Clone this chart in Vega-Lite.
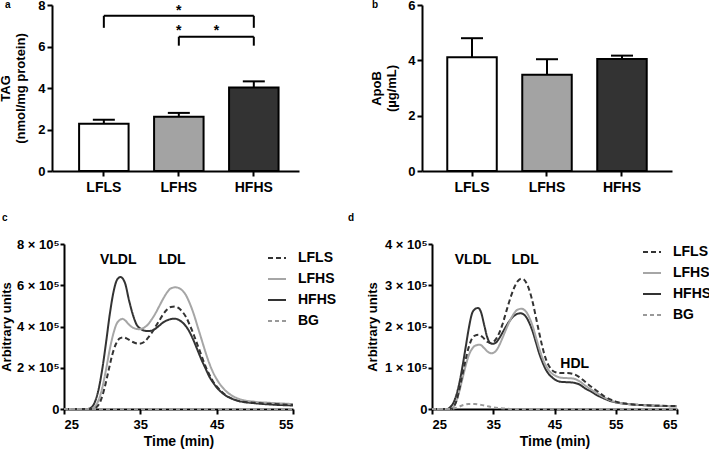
{
  "$schema": "https://vega.github.io/schema/vega-lite/v6.json",
  "autosize": {"type": "none"},
  "padding": {"left": 52, "top": 5, "right": 657, "bottom": 449},
  "config": {
    "font": "Liberation Sans",
    "view": {"stroke": null},
    "axis": {"domainColor": "#000", "domainWidth": 2, "tickColor": "#000", "tickWidth": 2, "tickSize": 5, "labelColor": "#000", "labelFontWeight": "bold", "labelFontSize": 13, "titleColor": "#000", "titleFontWeight": "bold", "titleFontSize": 13, "grid": false, "labelPadding": 2},
    "title": {"anchor": "start", "frame": "group", "fontSize": 10, "fontWeight": "bold", "baseline": "alphabetic", "color": "#000"},
    "legend": {"orient": "none", "title": null, "symbolType": "stroke", "symbolSize": 324, "symbolStrokeWidth": 2, "labelFontSize": 14, "labelFontWeight": "bold", "labelColor": "#000", "labelOffset": 11, "rowPadding": 4, "padding": 0}
  },
  "datasets": {
    "tag": [
      {"group": "LFLS", "mean": 2.28, "upper": 2.47},
      {"group": "LFHS", "mean": 2.62, "upper": 2.80},
      {"group": "HFHS", "mean": 4.02, "upper": 4.32}
    ],
    "apob": [
      {"group": "LFLS", "mean": 4.11, "upper": 4.80},
      {"group": "LFHS", "mean": 3.48, "upper": 4.04},
      {"group": "HFHS", "mean": 4.05, "upper": 4.17}
    ],
    "sig": [
      {"from": "LFLS", "to": "HFHS", "y": 7.48, "low": 6.9},
      {"from": "LFHS", "to": "HFHS", "y": 6.47, "low": 6.04}
    ],
    "stars": [
      {"group": "LFHS", "y": 7.52, "mark": "*"},
      {"group": "LFHS", "y": 6.55, "mark": "*"}
    ],
    "midstar": [
      {"group": "LFHS", "y": 6.55, "mark": "*"}
    ],
    "labels_c": [
      {"label": "VLDL", "time": 32.1, "signal": 722000},
      {"label": "LDL", "time": 39.15, "signal": 722000}
    ],
    "labels_d": [
      {"label": "VLDL", "time": 31.7, "signal": 361000},
      {"label": "LDL", "time": 40.2, "signal": 361000},
      {"label": "HDL", "time": 48.3, "signal": 109000}
    ],
    "fplc_c": [
      {"group": "HFHS", "time": 25, "signal": 0}, {"group": "HFHS", "time": 28, "signal": 0}, {"group": "HFHS", "time": 28.5, "signal": 5000}, {"group": "HFHS", "time": 29, "signal": 30000}, {"group": "HFHS", "time": 29.5, "signal": 90000}, {"group": "HFHS", "time": 30, "signal": 190000}, {"group": "HFHS", "time": 30.5, "signal": 320000}, {"group": "HFHS", "time": 31, "signal": 460000}, {"group": "HFHS", "time": 31.5, "signal": 570000}, {"group": "HFHS", "time": 32, "signal": 630000}, {"group": "HFHS", "time": 32.4, "signal": 640000}, {"group": "HFHS", "time": 33, "signal": 610000}, {"group": "HFHS", "time": 33.5, "signal": 530000}, {"group": "HFHS", "time": 34, "signal": 460000}, {"group": "HFHS", "time": 34.5, "signal": 410000}, {"group": "HFHS", "time": 35, "signal": 390000}, {"group": "HFHS", "time": 35.5, "signal": 380000}, {"group": "HFHS", "time": 36, "signal": 378000}, {"group": "HFHS", "time": 36.5, "signal": 380000}, {"group": "HFHS", "time": 37, "signal": 390000}, {"group": "HFHS", "time": 37.5, "signal": 405000}, {"group": "HFHS", "time": 38, "signal": 420000}, {"group": "HFHS", "time": 38.5, "signal": 430000}, {"group": "HFHS", "time": 39, "signal": 436000}, {"group": "HFHS", "time": 39.5, "signal": 438000}, {"group": "HFHS", "time": 40, "signal": 433000}, {"group": "HFHS", "time": 40.5, "signal": 420000}, {"group": "HFHS", "time": 41, "signal": 400000}, {"group": "HFHS", "time": 41.5, "signal": 370000}, {"group": "HFHS", "time": 42, "signal": 330000}, {"group": "HFHS", "time": 42.5, "signal": 285000}, {"group": "HFHS", "time": 43, "signal": 240000}, {"group": "HFHS", "time": 43.5, "signal": 200000}, {"group": "HFHS", "time": 44, "signal": 160000}, {"group": "HFHS", "time": 44.5, "signal": 130000}, {"group": "HFHS", "time": 45, "signal": 105000}, {"group": "HFHS", "time": 46, "signal": 70000}, {"group": "HFHS", "time": 47, "signal": 50000}, {"group": "HFHS", "time": 48, "signal": 38000}, {"group": "HFHS", "time": 50, "signal": 28000}, {"group": "HFHS", "time": 52, "signal": 22000}, {"group": "HFHS", "time": 55, "signal": 17000},
      {"group": "LFHS", "time": 25, "signal": 0}, {"group": "LFHS", "time": 28.5, "signal": 0}, {"group": "LFHS", "time": 29, "signal": 10000}, {"group": "LFHS", "time": 29.5, "signal": 40000}, {"group": "LFHS", "time": 30, "signal": 100000}, {"group": "LFHS", "time": 30.5, "signal": 190000}, {"group": "LFHS", "time": 31, "signal": 290000}, {"group": "LFHS", "time": 31.5, "signal": 370000}, {"group": "LFHS", "time": 32, "signal": 420000}, {"group": "LFHS", "time": 32.7, "signal": 437000}, {"group": "LFHS", "time": 33, "signal": 430000}, {"group": "LFHS", "time": 33.5, "signal": 410000}, {"group": "LFHS", "time": 34, "signal": 395000}, {"group": "LFHS", "time": 34.8, "signal": 387000}, {"group": "LFHS", "time": 35.5, "signal": 395000}, {"group": "LFHS", "time": 36, "signal": 410000}, {"group": "LFHS", "time": 36.5, "signal": 435000}, {"group": "LFHS", "time": 37, "signal": 465000}, {"group": "LFHS", "time": 37.5, "signal": 500000}, {"group": "LFHS", "time": 38, "signal": 535000}, {"group": "LFHS", "time": 38.5, "signal": 565000}, {"group": "LFHS", "time": 39, "signal": 585000}, {"group": "LFHS", "time": 39.6, "signal": 590000}, {"group": "LFHS", "time": 40, "signal": 587000}, {"group": "LFHS", "time": 40.5, "signal": 575000}, {"group": "LFHS", "time": 41, "signal": 550000}, {"group": "LFHS", "time": 41.5, "signal": 510000}, {"group": "LFHS", "time": 42, "signal": 460000}, {"group": "LFHS", "time": 42.5, "signal": 400000}, {"group": "LFHS", "time": 43, "signal": 340000}, {"group": "LFHS", "time": 43.5, "signal": 280000}, {"group": "LFHS", "time": 44, "signal": 225000}, {"group": "LFHS", "time": 44.5, "signal": 180000}, {"group": "LFHS", "time": 45, "signal": 145000}, {"group": "LFHS", "time": 46, "signal": 95000}, {"group": "LFHS", "time": 47, "signal": 65000}, {"group": "LFHS", "time": 48, "signal": 48000}, {"group": "LFHS", "time": 50, "signal": 35000}, {"group": "LFHS", "time": 52, "signal": 30000}, {"group": "LFHS", "time": 55, "signal": 24000},
      {"group": "LFLS", "time": 25, "signal": 0}, {"group": "LFLS", "time": 28.8, "signal": 0}, {"group": "LFLS", "time": 29.3, "signal": 10000}, {"group": "LFLS", "time": 29.8, "signal": 40000}, {"group": "LFLS", "time": 30.3, "signal": 100000}, {"group": "LFLS", "time": 30.8, "signal": 180000}, {"group": "LFLS", "time": 31.3, "signal": 260000}, {"group": "LFLS", "time": 31.8, "signal": 315000}, {"group": "LFLS", "time": 32.3, "signal": 342000}, {"group": "LFLS", "time": 32.8, "signal": 347000}, {"group": "LFLS", "time": 33.3, "signal": 340000}, {"group": "LFLS", "time": 34, "signal": 325000}, {"group": "LFLS", "time": 34.8, "signal": 316000}, {"group": "LFLS", "time": 35.5, "signal": 325000}, {"group": "LFLS", "time": 36, "signal": 345000}, {"group": "LFLS", "time": 36.5, "signal": 370000}, {"group": "LFLS", "time": 37, "signal": 400000}, {"group": "LFLS", "time": 37.5, "signal": 430000}, {"group": "LFLS", "time": 38, "signal": 460000}, {"group": "LFLS", "time": 38.5, "signal": 482000}, {"group": "LFLS", "time": 39, "signal": 495000}, {"group": "LFLS", "time": 39.5, "signal": 497000}, {"group": "LFLS", "time": 40, "signal": 490000}, {"group": "LFLS", "time": 40.5, "signal": 472000}, {"group": "LFLS", "time": 41, "signal": 445000}, {"group": "LFLS", "time": 41.5, "signal": 405000}, {"group": "LFLS", "time": 42, "signal": 360000}, {"group": "LFLS", "time": 42.5, "signal": 310000}, {"group": "LFLS", "time": 43, "signal": 260000}, {"group": "LFLS", "time": 43.5, "signal": 210000}, {"group": "LFLS", "time": 44, "signal": 170000}, {"group": "LFLS", "time": 44.5, "signal": 135000}, {"group": "LFLS", "time": 45, "signal": 110000}, {"group": "LFLS", "time": 46, "signal": 72000}, {"group": "LFLS", "time": 47, "signal": 50000}, {"group": "LFLS", "time": 48, "signal": 38000}, {"group": "LFLS", "time": 50, "signal": 30000}, {"group": "LFLS", "time": 52, "signal": 25000}, {"group": "LFLS", "time": 55, "signal": 20000},
      {"group": "BG", "time": 25, "signal": 0}, {"group": "BG", "time": 40, "signal": 0}, {"group": "BG", "time": 55, "signal": 0}
    ],
    "fplc_d": [
      {"group": "HFHS", "time": 25, "signal": 0}, {"group": "HFHS", "time": 27.5, "signal": 0}, {"group": "HFHS", "time": 28, "signal": 5000}, {"group": "HFHS", "time": 28.5, "signal": 15000}, {"group": "HFHS", "time": 29, "signal": 35000}, {"group": "HFHS", "time": 29.5, "signal": 65000}, {"group": "HFHS", "time": 30, "signal": 105000}, {"group": "HFHS", "time": 30.5, "signal": 150000}, {"group": "HFHS", "time": 31, "signal": 195000}, {"group": "HFHS", "time": 31.5, "signal": 230000}, {"group": "HFHS", "time": 32, "signal": 242000}, {"group": "HFHS", "time": 32.5, "signal": 245000}, {"group": "HFHS", "time": 33, "signal": 235000}, {"group": "HFHS", "time": 33.5, "signal": 205000}, {"group": "HFHS", "time": 34, "signal": 175000}, {"group": "HFHS", "time": 34.5, "signal": 160000}, {"group": "HFHS", "time": 35, "signal": 158000}, {"group": "HFHS", "time": 35.5, "signal": 162000}, {"group": "HFHS", "time": 36, "signal": 172000}, {"group": "HFHS", "time": 36.5, "signal": 185000}, {"group": "HFHS", "time": 37, "signal": 198000}, {"group": "HFHS", "time": 37.5, "signal": 210000}, {"group": "HFHS", "time": 38, "signal": 220000}, {"group": "HFHS", "time": 38.5, "signal": 227000}, {"group": "HFHS", "time": 39, "signal": 231000}, {"group": "HFHS", "time": 39.5, "signal": 232000}, {"group": "HFHS", "time": 40, "signal": 229000}, {"group": "HFHS", "time": 40.5, "signal": 220000}, {"group": "HFHS", "time": 41, "signal": 205000}, {"group": "HFHS", "time": 41.5, "signal": 185000}, {"group": "HFHS", "time": 42, "signal": 160000}, {"group": "HFHS", "time": 42.5, "signal": 135000}, {"group": "HFHS", "time": 43, "signal": 115000}, {"group": "HFHS", "time": 43.5, "signal": 98000}, {"group": "HFHS", "time": 44, "signal": 86000}, {"group": "HFHS", "time": 44.5, "signal": 78000}, {"group": "HFHS", "time": 45, "signal": 72000}, {"group": "HFHS", "time": 46, "signal": 66000}, {"group": "HFHS", "time": 47, "signal": 65000}, {"group": "HFHS", "time": 48, "signal": 64000}, {"group": "HFHS", "time": 49, "signal": 60000}, {"group": "HFHS", "time": 50, "signal": 50000}, {"group": "HFHS", "time": 51, "signal": 42000}, {"group": "HFHS", "time": 52, "signal": 33000}, {"group": "HFHS", "time": 53, "signal": 26000}, {"group": "HFHS", "time": 54, "signal": 20000}, {"group": "HFHS", "time": 55, "signal": 16000}, {"group": "HFHS", "time": 57, "signal": 12000}, {"group": "HFHS", "time": 60, "signal": 9000}, {"group": "HFHS", "time": 65, "signal": 6500},
      {"group": "LFHS", "time": 25, "signal": 0}, {"group": "LFHS", "time": 28, "signal": 0}, {"group": "LFHS", "time": 28.5, "signal": 5000}, {"group": "LFHS", "time": 29, "signal": 20000}, {"group": "LFHS", "time": 29.5, "signal": 45000}, {"group": "LFHS", "time": 30, "signal": 75000}, {"group": "LFHS", "time": 30.5, "signal": 105000}, {"group": "LFHS", "time": 31, "signal": 130000}, {"group": "LFHS", "time": 31.5, "signal": 145000}, {"group": "LFHS", "time": 32, "signal": 153000}, {"group": "LFHS", "time": 32.8, "signal": 156000}, {"group": "LFHS", "time": 33.5, "signal": 148000}, {"group": "LFHS", "time": 34, "signal": 140000}, {"group": "LFHS", "time": 34.7, "signal": 135000}, {"group": "LFHS", "time": 35.5, "signal": 142000}, {"group": "LFHS", "time": 36, "signal": 155000}, {"group": "LFHS", "time": 36.5, "signal": 172000}, {"group": "LFHS", "time": 37, "signal": 190000}, {"group": "LFHS", "time": 37.5, "signal": 207000}, {"group": "LFHS", "time": 38, "signal": 222000}, {"group": "LFHS", "time": 38.5, "signal": 234000}, {"group": "LFHS", "time": 39, "signal": 241000}, {"group": "LFHS", "time": 39.6, "signal": 243000}, {"group": "LFHS", "time": 40, "signal": 241000}, {"group": "LFHS", "time": 40.5, "signal": 233000}, {"group": "LFHS", "time": 41, "signal": 218000}, {"group": "LFHS", "time": 41.5, "signal": 198000}, {"group": "LFHS", "time": 42, "signal": 172000}, {"group": "LFHS", "time": 42.5, "signal": 147000}, {"group": "LFHS", "time": 43, "signal": 125000}, {"group": "LFHS", "time": 43.5, "signal": 108000}, {"group": "LFHS", "time": 44, "signal": 95000}, {"group": "LFHS", "time": 44.5, "signal": 87000}, {"group": "LFHS", "time": 45, "signal": 82000}, {"group": "LFHS", "time": 46, "signal": 76000}, {"group": "LFHS", "time": 47, "signal": 75000}, {"group": "LFHS", "time": 48, "signal": 74000}, {"group": "LFHS", "time": 49, "signal": 68000}, {"group": "LFHS", "time": 50, "signal": 57000}, {"group": "LFHS", "time": 51, "signal": 47000}, {"group": "LFHS", "time": 52, "signal": 38000}, {"group": "LFHS", "time": 53, "signal": 29000}, {"group": "LFHS", "time": 54, "signal": 22000}, {"group": "LFHS", "time": 55, "signal": 17000}, {"group": "LFHS", "time": 57, "signal": 12000}, {"group": "LFHS", "time": 60, "signal": 9000}, {"group": "LFHS", "time": 65, "signal": 7000},
      {"group": "LFLS", "time": 25, "signal": 0}, {"group": "LFLS", "time": 28, "signal": 0}, {"group": "LFLS", "time": 28.5, "signal": 5000}, {"group": "LFLS", "time": 29, "signal": 20000}, {"group": "LFLS", "time": 29.5, "signal": 50000}, {"group": "LFLS", "time": 30, "signal": 85000}, {"group": "LFLS", "time": 30.5, "signal": 120000}, {"group": "LFLS", "time": 31, "signal": 150000}, {"group": "LFLS", "time": 31.5, "signal": 170000}, {"group": "LFLS", "time": 32, "signal": 178000}, {"group": "LFLS", "time": 32.6, "signal": 180000}, {"group": "LFLS", "time": 33.2, "signal": 175000}, {"group": "LFLS", "time": 34, "signal": 163000}, {"group": "LFLS", "time": 34.6, "signal": 160000}, {"group": "LFLS", "time": 35.2, "signal": 165000}, {"group": "LFLS", "time": 36, "signal": 185000}, {"group": "LFLS", "time": 36.5, "signal": 205000}, {"group": "LFLS", "time": 37, "signal": 230000}, {"group": "LFLS", "time": 37.5, "signal": 255000}, {"group": "LFLS", "time": 38, "signal": 278000}, {"group": "LFLS", "time": 38.5, "signal": 297000}, {"group": "LFLS", "time": 39, "signal": 310000}, {"group": "LFLS", "time": 39.6, "signal": 316000}, {"group": "LFLS", "time": 40, "signal": 314000}, {"group": "LFLS", "time": 40.5, "signal": 303000}, {"group": "LFLS", "time": 41, "signal": 283000}, {"group": "LFLS", "time": 41.5, "signal": 255000}, {"group": "LFLS", "time": 42, "signal": 220000}, {"group": "LFLS", "time": 42.5, "signal": 185000}, {"group": "LFLS", "time": 43, "signal": 152000}, {"group": "LFLS", "time": 43.5, "signal": 125000}, {"group": "LFLS", "time": 44, "signal": 107000}, {"group": "LFLS", "time": 44.5, "signal": 96000}, {"group": "LFLS", "time": 45, "signal": 90000}, {"group": "LFLS", "time": 46, "signal": 87000}, {"group": "LFLS", "time": 47, "signal": 87000}, {"group": "LFLS", "time": 48, "signal": 85000}, {"group": "LFLS", "time": 49, "signal": 78000}, {"group": "LFLS", "time": 50, "signal": 66000}, {"group": "LFLS", "time": 51, "signal": 54000}, {"group": "LFLS", "time": 52, "signal": 43000}, {"group": "LFLS", "time": 53, "signal": 32000}, {"group": "LFLS", "time": 54, "signal": 24000}, {"group": "LFLS", "time": 55, "signal": 18000}, {"group": "LFLS", "time": 57, "signal": 12000}, {"group": "LFLS", "time": 60, "signal": 9000}, {"group": "LFLS", "time": 65, "signal": 7000},
      {"group": "BG", "time": 25, "signal": 0}, {"group": "BG", "time": 28, "signal": 0}, {"group": "BG", "time": 29, "signal": 3000}, {"group": "BG", "time": 30, "signal": 9000}, {"group": "BG", "time": 31, "signal": 12000}, {"group": "BG", "time": 32, "signal": 12000}, {"group": "BG", "time": 33, "signal": 10000}, {"group": "BG", "time": 34, "signal": 7000}, {"group": "BG", "time": 35, "signal": 4000}, {"group": "BG", "time": 36, "signal": 2000}, {"group": "BG", "time": 37, "signal": 1000}, {"group": "BG", "time": 38, "signal": 0}, {"group": "BG", "time": 65, "signal": 0}
    ]
  },
  "bounds": "flush",
  "align": "each",
  "columns": 2,
  "spacing": {"row": 73, "column": 123},
  "resolve": {"scale": {"color": "independent", "strokeDash": "independent", "fill": "independent"}, "legend": {"color": "independent", "strokeDash": "independent"}},
  "concat": [
    {
      "width": 247, "height": 166,
      "title": {"text": "a", "dx": -47, "offset": -11},
      "layer": [
        {"data": {"name": "tag"}, "mark": {"type": "bar", "stroke": "#000", "strokeWidth": 2},
         "encoding": {
           "x": {"field": "group", "type": "nominal", "scale": {"domain": ["LFLS", "LFHS", "HFHS"], "paddingInner": 0.34, "paddingOuter": 0.317, "align": 0.57}, "axis": {"title": null, "labelAngle": 0, "labelFontSize": 14, "labelPadding": 4}},
           "y": {"field": "mean", "type": "quantitative", "scale": {"domain": [0, 8], "nice": false}, "axis": {"values": [0, 2, 4, 6, 8], "title": ["TAG", "(nmol/mg protein)"], "titlePadding": 10, "titleLineHeight": 15}},
           "fill": {"field": "group", "type": "nominal", "scale": {"domain": ["LFLS", "LFHS", "HFHS"], "range": ["#ffffff", "#a3a3a3", "#333333"]}, "legend": null}
         }},
        {"data": {"name": "tag"}, "mark": {"type": "rule", "strokeWidth": 2, "color": "#000"},
         "encoding": {"x": {"field": "group", "type": "nominal"}, "y": {"field": "mean", "type": "quantitative"}, "y2": {"field": "upper"}}},
        {"data": {"name": "tag"}, "mark": {"type": "tick", "thickness": 2, "size": 22, "color": "#000", "opacity": 1},
         "encoding": {"x": {"field": "group", "type": "nominal"}, "y": {"field": "upper", "type": "quantitative"}}},
        {"data": {"name": "sig"}, "mark": {"type": "rule", "strokeWidth": 2, "color": "#000"},
         "encoding": {"x": {"field": "from", "type": "nominal"}, "x2": {"field": "to"}, "y": {"field": "y", "type": "quantitative"}}},
        {"data": {"name": "sig"}, "mark": {"type": "rule", "strokeWidth": 2, "color": "#000"},
         "encoding": {"x": {"field": "from", "type": "nominal"}, "y": {"field": "low", "type": "quantitative"}, "y2": {"field": "y"}}},
        {"data": {"name": "sig"}, "mark": {"type": "rule", "strokeWidth": 2, "color": "#000"},
         "encoding": {"x": {"field": "to", "type": "nominal"}, "y": {"field": "low", "type": "quantitative"}, "y2": {"field": "y"}}},
        {"data": {"name": "stars"}, "mark": {"type": "text", "fontSize": 14, "fontWeight": "bold", "baseline": "alphabetic", "color": "#000"},
         "encoding": {"x": {"field": "group", "type": "nominal"}, "y": {"field": "y", "type": "quantitative"}, "text": {"field": "mark"}}},
        {"data": {"name": "midstar"}, "mark": {"type": "text", "fontSize": 14, "fontWeight": "bold", "baseline": "alphabetic", "color": "#000"},
         "encoding": {"x": {"field": "group", "type": "nominal", "bandPosition": 1.26}, "y": {"field": "y", "type": "quantitative"}, "text": {"field": "mark"}}}
      ]
    },
    {
      "width": 250, "height": 166,
      "title": {"text": "b", "dx": -50, "offset": -11},
      "layer": [
        {"data": {"name": "apob"}, "mark": {"type": "bar", "stroke": "#000", "strokeWidth": 2},
         "encoding": {
           "x": {"field": "group", "type": "nominal", "scale": {"domain": ["LFLS", "LFHS", "HFHS"], "paddingInner": 0.34, "paddingOuter": 0.337}, "axis": {"title": null, "labelAngle": 0, "labelFontSize": 14, "labelPadding": 4}},
           "y": {"field": "mean", "type": "quantitative", "scale": {"domain": [0, 6], "nice": false}, "axis": {"values": [0, 2, 4, 6], "title": ["ApoB", "(µg/mL)"], "titlePadding": 9, "titleLineHeight": 15}},
           "fill": {"field": "group", "type": "nominal", "scale": {"domain": ["LFLS", "LFHS", "HFHS"], "range": ["#ffffff", "#a3a3a3", "#333333"]}, "legend": null}
         }},
        {"data": {"name": "apob"}, "mark": {"type": "rule", "strokeWidth": 2, "color": "#000"},
         "encoding": {"x": {"field": "group", "type": "nominal"}, "y": {"field": "mean", "type": "quantitative"}, "y2": {"field": "upper"}}},
        {"data": {"name": "apob"}, "mark": {"type": "tick", "thickness": 2, "size": 22, "color": "#000", "opacity": 1},
         "encoding": {"x": {"field": "group", "type": "nominal"}, "y": {"field": "upper", "type": "quantitative"}}}
      ]
    },
    {
      "width": 241, "height": 165,
      "title": {"text": "c", "dx": -50, "offset": 15},
      "layer": [
        {"data": {"name": "fplc_c"}, "mark": {"type": "line", "interpolate": "monotone", "strokeWidth": 2},
         "encoding": {
           "x": {"field": "time", "type": "quantitative", "scale": {"domain": [25, 55], "range": [12, 241], "nice": false}, "axis": {"values": [25, 35, 45, 55], "title": "Time (min)", "titleFontSize": 14, "labelPadding": 4, "titlePadding": 3}},
           "y": {"field": "signal", "type": "quantitative", "scale": {"domain": [0, 800000], "nice": false}, "axis": {"values": [0, 200000, 400000, 600000, 800000], "labelExpr": "datum.value == 0 ? '0' : format(datum.value / 100000, 'd') + ' × 10⁵'", "title": "Arbitrary units", "offset": -12, "tickSize": 4, "labelPadding": 1, "titlePadding": 3}},
           "color": {"field": "group", "type": "nominal", "scale": {"domain": ["LFLS", "LFHS", "HFHS", "BG"], "range": ["#333333", "#a6a6a6", "#333333", "#999999"]}, "legend": {"legendX": 215, "legendY": 4}},
           "strokeDash": {"field": "group", "type": "nominal", "scale": {"domain": ["LFLS", "LFHS", "HFHS", "BG"], "range": [[5, 3], [1, 0], [1, 0], [4, 3]]}, "legend": {"legendX": 215, "legendY": 4}}
         }},
        {"data": {"name": "labels_c"}, "mark": {"type": "text", "fontSize": 14, "fontWeight": "bold", "baseline": "middle", "color": "#000"},
         "encoding": {"x": {"field": "time", "type": "quantitative"}, "y": {"field": "signal", "type": "quantitative"}, "text": {"field": "label"}}}
      ]
    },
    {
      "width": 255, "height": 165,
      "title": {"text": "d", "dx": -74, "offset": 15},
      "layer": [
        {"data": {"name": "fplc_d"}, "mark": {"type": "line", "interpolate": "monotone", "strokeWidth": 2},
         "encoding": {
           "x": {"field": "time", "type": "quantitative", "scale": {"domain": [25, 65], "range": [10, 255], "nice": false}, "axis": {"values": [25, 35, 45, 55, 65], "title": "Time (min)", "titleFontSize": 14, "labelPadding": 4, "titlePadding": 3}},
           "y": {"field": "signal", "type": "quantitative", "scale": {"domain": [0, 400000], "nice": false}, "axis": {"values": [0, 100000, 200000, 300000, 400000], "labelExpr": "datum.value == 0 ? '0' : format(datum.value / 100000, 'd') + ' × 10⁵'", "title": "Arbitrary units", "offset": -10, "tickSize": 4, "labelPadding": 1, "titlePadding": 5}},
           "color": {"field": "group", "type": "nominal", "scale": {"domain": ["LFLS", "LFHS", "HFHS", "BG"], "range": ["#333333", "#a6a6a6", "#333333", "#999999"]}, "legend": {"legendX": 220, "legendY": -2}},
           "strokeDash": {"field": "group", "type": "nominal", "scale": {"domain": ["LFLS", "LFHS", "HFHS", "BG"], "range": [[5, 3], [1, 0], [1, 0], [4, 3]]}, "legend": {"legendX": 220, "legendY": -2}}
         }},
        {"data": {"name": "labels_d"}, "mark": {"type": "text", "fontSize": 14, "fontWeight": "bold", "baseline": "middle", "color": "#000"},
         "encoding": {"x": {"field": "time", "type": "quantitative"}, "y": {"field": "signal", "type": "quantitative"}, "text": {"field": "label"}}}
      ]
    }
  ]
}
